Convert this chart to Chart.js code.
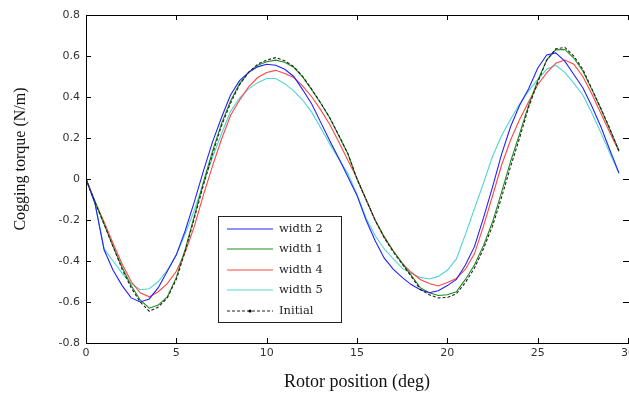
<!DOCTYPE html>
<html>
<head>
<meta charset="utf-8">
<script src="https://cdn.jsdelivr.net/npm/chart.js@4/dist/chart.umd.min.js"></script>
<style>
  html, body { margin: 0; padding: 0; background: #fff; }
  #wrap { width: 629px; height: 394px; position: relative; }
</style>
</head>
<body>
<div id="wrap"><canvas id="torqueChart"></canvas></div>
<script>
// rotor position (deg)
const positions = [
  0, 0.5, 1, 1.5, 2, 2.5, 3, 3.5, 4, 4.5,
  5, 5.5, 6, 6.5, 7, 7.5, 8, 8.5, 9, 9.5,
  10, 10.5, 11, 11.5, 12, 12.5, 13, 13.5, 14, 14.5,
  15, 15.5, 16, 16.5, 17, 17.5, 18, 18.5, 19, 19.5,
  20, 20.5, 21, 21.5, 22, 22.5, 23, 23.5, 24, 24.5,
  25, 25.5, 26, 26.5, 27, 27.5, 28, 28.5, 29, 29.5,
];

const width2 = [
  0, -0.12, -0.345, -0.445, -0.52, -0.58, -0.6, -0.585, -0.53, -0.45,
  -0.37, -0.25, -0.11, 0.04, 0.18, 0.3, 0.41, 0.48, 0.52, 0.547,
  0.56, 0.555, 0.535, 0.5, 0.435, 0.365, 0.275, 0.185, 0.1, 0.01,
  -0.08, -0.2, -0.3, -0.385, -0.44, -0.48, -0.515, -0.54, -0.555, -0.545,
  -0.52, -0.49, -0.42, -0.33, -0.19, -0.04, 0.12, 0.255, 0.36, 0.44,
  0.54, 0.605, 0.615, 0.575, 0.51, 0.445, 0.355, 0.255, 0.14, 0.03,
];

const width1 = [
  0, -0.11, -0.22, -0.33, -0.43, -0.52, -0.59, -0.63, -0.615, -0.575,
  -0.48, -0.34, -0.18, -0.015, 0.135, 0.27, 0.38, 0.465, 0.52, 0.555,
  0.572, 0.58, 0.57, 0.545, 0.497, 0.435, 0.368, 0.296, 0.21, 0.122,
  0.0, -0.1, -0.2, -0.28, -0.35, -0.41, -0.47, -0.53, -0.555, -0.568,
  -0.565, -0.55, -0.49, -0.42, -0.325, -0.21, -0.065, 0.085, 0.22, 0.36,
  0.48, 0.58, 0.63, 0.632, 0.59, 0.527, 0.436, 0.34, 0.24, 0.14,
];

const width4 = [
  0, -0.11, -0.21, -0.315, -0.415, -0.5, -0.555, -0.575, -0.55, -0.51,
  -0.45, -0.355, -0.23, -0.077, 0.063, 0.194, 0.31, 0.385, 0.45, 0.495,
  0.52, 0.53, 0.515, 0.495, 0.453, 0.4, 0.336, 0.265, 0.179, 0.09,
  0.004, -0.1, -0.2, -0.285, -0.35, -0.41, -0.455, -0.49, -0.51, -0.522,
  -0.505, -0.485, -0.44, -0.365, -0.23, -0.083, 0.067, 0.19, 0.29, 0.377,
  0.46, 0.518, 0.565, 0.58, 0.56, 0.5, 0.415, 0.32, 0.225, 0.135,
];

const width5 = [
  0, -0.12, -0.34, -0.4, -0.46, -0.51, -0.54, -0.535, -0.5, -0.445,
  -0.37, -0.265, -0.152, -0.02, 0.104, 0.221, 0.33, 0.395, 0.44, 0.47,
  0.49, 0.49, 0.465, 0.43, 0.384, 0.325, 0.248, 0.17, 0.097, 0.025,
  -0.075, -0.19, -0.276, -0.34, -0.389, -0.435, -0.46, -0.48, -0.488, -0.475,
  -0.445, -0.39, -0.27, -0.145, -0.02, 0.11, 0.211, 0.291, 0.366, 0.43,
  0.485, 0.535, 0.555, 0.52, 0.468, 0.41, 0.322, 0.225, 0.126, 0.025,
];

const initial = [
  0, -0.115, -0.22, -0.33, -0.44, -0.53, -0.6, -0.645, -0.625, -0.58,
  -0.49, -0.35, -0.19, -0.03, 0.12, 0.26, 0.37, 0.46, 0.52, 0.56,
  0.58, 0.592, 0.577, 0.548, 0.5, 0.437, 0.37, 0.298, 0.212, 0.123,
  0.0, -0.1, -0.2, -0.285, -0.355, -0.415, -0.475, -0.538, -0.565, -0.58,
  -0.578, -0.56, -0.505, -0.435, -0.34, -0.23, -0.09, 0.06, 0.2, 0.35,
  0.47, 0.58, 0.635, 0.642, 0.6, 0.535, 0.44, 0.345, 0.245, 0.135,
];

const xTicks = [0, 5, 10, 15, 20, 25, 30];
const yTicks = [-0.8, -0.6, -0.4, -0.2, 0, 0.2, 0.4, 0.6, 0.8];
const yTitle = "Cogging torque (N/m)";

const toPoints = (vals) => positions.map((x, i) => ({ x: x, y: vals[i] }));

function series(label, vals, color, extra) {
  return Object.assign({
    label: label,
    data: toPoints(vals),
    borderColor: color,
    backgroundColor: color,
    borderWidth: 1.1,
    pointRadius: 0,
    tension: 0,
    fill: false,
    order: 1,
  }, extra || {});
}

// frame with inward ticks, like the original plot
const framePlugin = {
  id: "frame",
  afterDatasetsDraw(chart) {
    const { ctx, chartArea: a, scales } = chart;
    ctx.save();
    ctx.strokeStyle = "#000";
    ctx.lineWidth = 1;
    ctx.beginPath();
    ctx.moveTo(a.left + 0.5, a.bottom + 0.5);
    ctx.lineTo(a.left + 0.5, a.top + 0.5);
    ctx.lineTo(a.right + 2, a.top + 0.5);
    ctx.moveTo(a.left + 0.5, a.bottom + 0.5);
    ctx.lineTo(a.right + 2, a.bottom + 0.5);
    xTicks.forEach((v) => {
      const px = Math.round(scales.x.getPixelForValue(v)) + 0.5;
      ctx.moveTo(px, a.top);
      ctx.lineTo(px, a.top + 5);
      ctx.moveTo(px, a.bottom);
      ctx.lineTo(px, a.bottom - 5);
    });
    yTicks.forEach((v) => {
      const py = Math.round(scales.y.getPixelForValue(v)) + 0.5;
      ctx.moveTo(a.left, py);
      ctx.lineTo(a.left + 5, py);
      ctx.moveTo(a.right + 1, py);
      ctx.lineTo(a.right - 5, py);
    });
    ctx.stroke();

    // y title sits a bit above the middle of the axis in the original
    ctx.fillStyle = "#111";
    ctx.font = "16px 'Liberation Serif'";
    ctx.textAlign = "center";
    ctx.textBaseline = "middle";
    ctx.translate(21, 159);
    ctx.rotate(-Math.PI / 2);
    ctx.fillText(yTitle, 0, 0);
    ctx.restore();
  },
};

// boxed legend inside the plot
const legendBox = { left: 218, top: 216, width: 123, height: 106, rowGap: 20.6 };
const legendPlugin = {
  id: "boxLegend",
  afterDraw(chart) {
    const { ctx } = chart;
    const b = legendBox;
    ctx.save();
    ctx.fillStyle = "#fff";
    ctx.fillRect(b.left, b.top, b.width, b.height);
    ctx.strokeStyle = "#222";
    ctx.lineWidth = 1;
    ctx.strokeRect(b.left + 0.5, b.top + 0.5, b.width, b.height);
    ctx.font = "11.5px 'DejaVu Serif'";
    ctx.textBaseline = "middle";
    chart.data.datasets.forEach((ds, i) => {
      const y = Math.round(b.top + 12.5 + i * b.rowGap);
      ctx.strokeStyle = ds.borderColor;
      ctx.lineWidth = 1.2;
      ctx.setLineDash(ds.borderDash || []);
      ctx.beginPath();
      ctx.moveTo(b.left + 9, y);
      ctx.lineTo(b.left + 55, y);
      ctx.stroke();
      ctx.setLineDash([]);
      if (ds.borderDash) {
        ctx.fillStyle = "#000";
        ctx.beginPath();
        ctx.arc(b.left + 32, y, 1.6, 0, Math.PI * 2);
        ctx.fill();
      }
      ctx.fillStyle = "#222";
      ctx.fillText(ds.label, b.left + 61, y);
    });
    ctx.restore();
  },
};

const ctx = document.getElementById("torqueChart").getContext("2d");

const torqueChart = new Chart(ctx, {
  type: "line",
  data: {
    datasets: [
      series("width 2", width2, "#2222ff"),
      series("width 1", width1, "#1c8c1c"),
      series("width 4", width4, "#ff4545"),
      series("width 5", width5, "#52d3d3"),
      series("Initial", initial, "#222222", { borderDash: [3, 2], order: 0 }),
    ],
  },
  options: {
    responsive: true,
    maintainAspectRatio: false,
    animation: false,
    layout: {
      padding: { top: 15, right: 1, left: 0, bottom: 0 },
    },
    plugins: {
      legend: { display: false },
      tooltip: { enabled: false },
    },
    scales: {
      x: {
        type: "linear",
        min: 0,
        max: 30,
        afterFit: (scale) => {
          scale.height = 51;
          // let the "30" label run off the edge instead of shrinking the plot
          scale.paddingLeft = 0;
          scale.paddingRight = 0;
        },
        afterBuildTicks: (scale) => { scale.ticks = xTicks.map((v) => ({ value: v })); },
        grid: { display: false, drawTicks: false },
        border: { display: false },
        ticks: {
          color: "#333",
          padding: 4,
          maxRotation: 0,
          font: { family: "'DejaVu Sans'", size: 11 },
        },
        title: {
          display: true,
          text: "Rotor position (deg)",
          color: "#111",
          padding: { top: 0, bottom: 1 },
          font: { family: "'Liberation Serif'", size: 18 },
        },
      },
      y: {
        min: -0.8,
        max: 0.8,
        afterFit: (scale) => {
          scale.width = 86;
          scale.paddingTop = 0;
          scale.paddingBottom = 0;
        },
        afterBuildTicks: (scale) => { scale.ticks = yTicks.map((v) => ({ value: v })); },
        grid: { display: false, drawTicks: false },
        border: { display: false },
        ticks: {
          color: "#333",
          padding: 6,
          font: { family: "'DejaVu Sans'", size: 11 },
          callback: (v) => (Math.abs(v) < 1e-9 ? "0" : v.toFixed(1)),
        },
        title: { display: false },
      },
    },
  },
  plugins: [framePlugin, legendPlugin],
});
</script>
</body>
</html>
